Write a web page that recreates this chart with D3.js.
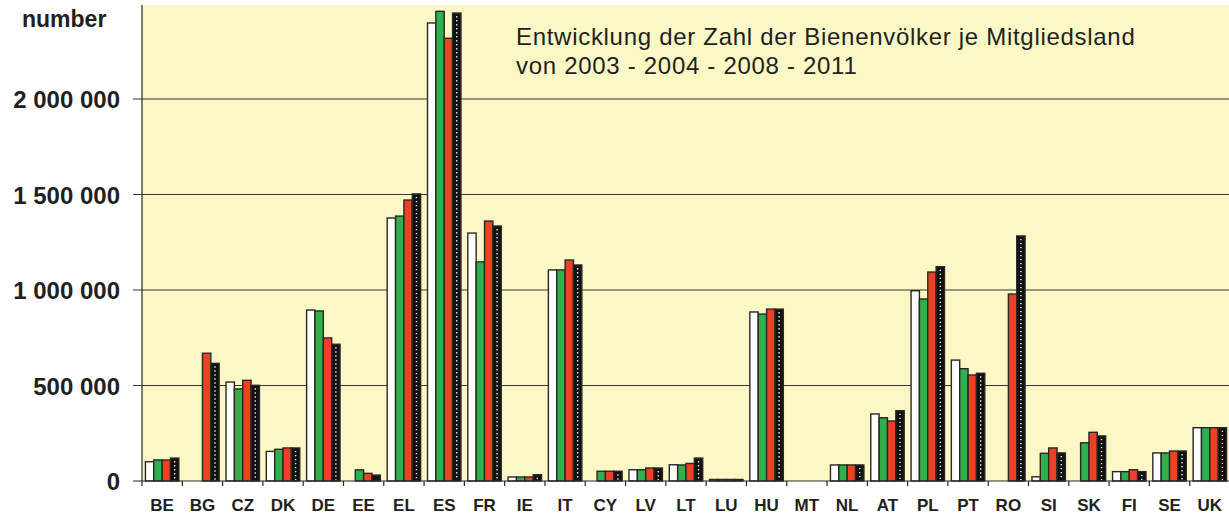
<!DOCTYPE html>
<html>
<head>
<meta charset="utf-8">
<script src="https://cdn.jsdelivr.net/npm/d3@7"></script>
<style>
  body { margin: 0; background: #fff; }
  svg { display: block; font-family: "Liberation Sans", Arial, sans-serif; }
</style>
</head>
<body>
<div id="chart"></div>
<script>
// Bienenvölker per member state, 2003 / 2004 / 2008 / 2011
const countries = ['BE','BG','CZ','DK','DE','EE','EL','ES','FR','IE','IT','CY','LV','LT','LU','HU','MT','NL','AT','PL','PT','RO','SI','SK','FI','SE','UK'];
const years = ['2003', '2004', '2008', '2011'];

const v2003 = [101000, null, 518000, 155000, 895000, null, 1377000, 2398000, 1298000, 21000, 1105000, null, 59000, 85000, 8000, 885000, null, 84000, 351000, 996000, 633000, null, 22000, null, 49000, 147000, 279000];
const v2004 = [110000, null, 482000, 166000, 890000, 58000, 1387000, 2459000, 1147000, 21000, 1105000, 51000, 59000, 84000, 8000, 874000, null, 84000, 331000, 953000, 588000, null, 145000, 200000, 49000, 147000, 279000];
const v2008 = [110000, 669000, 527000, 173000, 749000, 40000, 1471000, 2318000, 1361000, 21000, 1157000, 51000, 68000, 92000, 8000, 900000, null, 84000, 314000, 1094000, 555000, 979000, 173000, 255000, 59000, 157000, 279000];
const v2011 = [120000, 616000, 501000, 173000, 716000, 31000, 1503000, 2450000, 1335000, 33000, 1131000, 51000, 68000, 120000, 8000, 900000, null, 84000, 368000, 1122000, 564000, 1283000, 147000, 236000, 49000, 157000, 279000];

const yTicks = [0, 500000, 1000000, 1500000, 2000000];
const titleLines = ['Entwicklung der Zahl der Bienenvölker je Mitgliedsland', 'von 2003 - 2004 - 2008 - 2011'];

const seriesColor = { '2003': '#ffffff', '2004': '#2eb14b', '2008': '#ee4124', '2011': '#111111' };
const seriesValues = { '2003': v2003, '2004': v2004, '2008': v2008, '2011': v2011 };

const width = 1229, height = 518;
const plotLeft = 142, plotRight = 1230, plotTop = 5, zeroY = 481;

const svg = d3.select('#chart').append('svg')
  .attr('width', width)
  .attr('height', height);

// ✅ Scales
const x0 = d3.scaleBand().domain(countries).range([plotLeft, plotRight]);
const x1 = d3.scaleBand().domain(years).range([0, x0.bandwidth()]).paddingOuter(0.41);
const y = d3.scaleLinear().domain([0, 2000000]).range([zeroY, 99]);

// ✅ Plot background
svg.append('rect')
  .attr('x', plotLeft).attr('y', plotTop)
  .attr('width', width - plotLeft).attr('height', zeroY - plotTop)
  .attr('fill', '#fcf8c5');

// ✅ Gridlines + y labels
svg.append('g')
  .selectAll('line')
  .data(yTicks.filter(d => d > 0))
  .join('line')
  .attr('x1', plotLeft - 9).attr('x2', width)
  .attr('y1', d => y(d)).attr('y2', d => y(d))
  .attr('stroke', '#3a3630').attr('stroke-width', 1);

svg.append('g')
  .selectAll('text')
  .data(yTicks)
  .join('text')
  .attr('x', 120)
  .attr('y', d => y(d) + 9)
  .attr('text-anchor', 'end')
  .attr('font-size', 24)
  .attr('font-weight', 'bold')
  .attr('fill', '#231f20')
  .text(d => d3.format(',')(d).replace(/,/g, ' '));

svg.append('text')
  .attr('x', 22).attr('y', 27)
  .attr('font-size', 23)
  .attr('font-weight', 'bold')
  .attr('fill', '#231f20')
  .text('number');

// ✅ Bars
const flat = [];
countries.forEach((c, i) => {
  years.forEach(yr => {
    const v = seriesValues[yr][i];
    if (v != null) flat.push({ country: c, year: yr, value: v });
  });
});

const bars = svg.append('g');
bars.selectAll('rect')
  .data(flat)
  .join('rect')
  .attr('x', d => x0(d.country) + x1(d.year))
  .attr('y', d => y(d.value))
  .attr('width', x1.bandwidth())
  .attr('height', d => zeroY - y(d.value))
  .attr('fill', d => seriesColor[d.year])
  .attr('stroke', '#2a2626')
  .attr('stroke-width', 1.4);

// dotted white line inside the 2011 bars
bars.selectAll('line.dots')
  .data(flat.filter(d => d.year === '2011' && zeroY - y(d.value) > 6))
  .join('line')
  .attr('class', 'dots')
  .attr('x1', d => x0(d.country) + x1(d.year) + x1.bandwidth() / 2)
  .attr('x2', d => x0(d.country) + x1(d.year) + x1.bandwidth() / 2)
  .attr('y1', d => y(d.value) + 3)
  .attr('y2', zeroY - 1)
  .attr('stroke', '#e8e8e8')
  .attr('stroke-width', 1.4)
  .attr('stroke-dasharray', '1.4,2.6');

// ✅ Axes
svg.append('line')
  .attr('x1', plotLeft).attr('x2', plotLeft)
  .attr('y1', plotTop).attr('y2', zeroY)
  .attr('stroke', '#2a2626').attr('stroke-width', 1.2);

svg.append('line')
  .attr('x1', plotLeft - 9).attr('x2', width)
  .attr('y1', zeroY).attr('y2', zeroY)
  .attr('stroke', '#2a2626').attr('stroke-width', 1.2);

svg.append('g')
  .selectAll('line')
  .data(countries)
  .join('line')
  .attr('x1', d => x0(d)).attr('x2', d => x0(d))
  .attr('y1', zeroY).attr('y2', zeroY + 5)
  .attr('stroke', '#2a2626').attr('stroke-width', 1.2);

svg.append('g')
  .selectAll('text')
  .data(countries)
  .join('text')
  .attr('x', d => x0(d) + x0.bandwidth() / 2)
  .attr('y', 511)
  .attr('text-anchor', 'middle')
  .attr('font-size', 17)
  .attr('font-weight', 'bold')
  .attr('fill', '#231f20')
  .text(d => d);

// ✅ Title
svg.append('g')
  .selectAll('text')
  .data(titleLines)
  .join('text')
  .attr('x', 516)
  .attr('y', (d, i) => 45 + i * 28.5)
  .attr('font-size', 24)
  .attr('letter-spacing', 0.7)
  .attr('fill', '#231f20')
  .text(d => d);
</script>
</body>
</html>
